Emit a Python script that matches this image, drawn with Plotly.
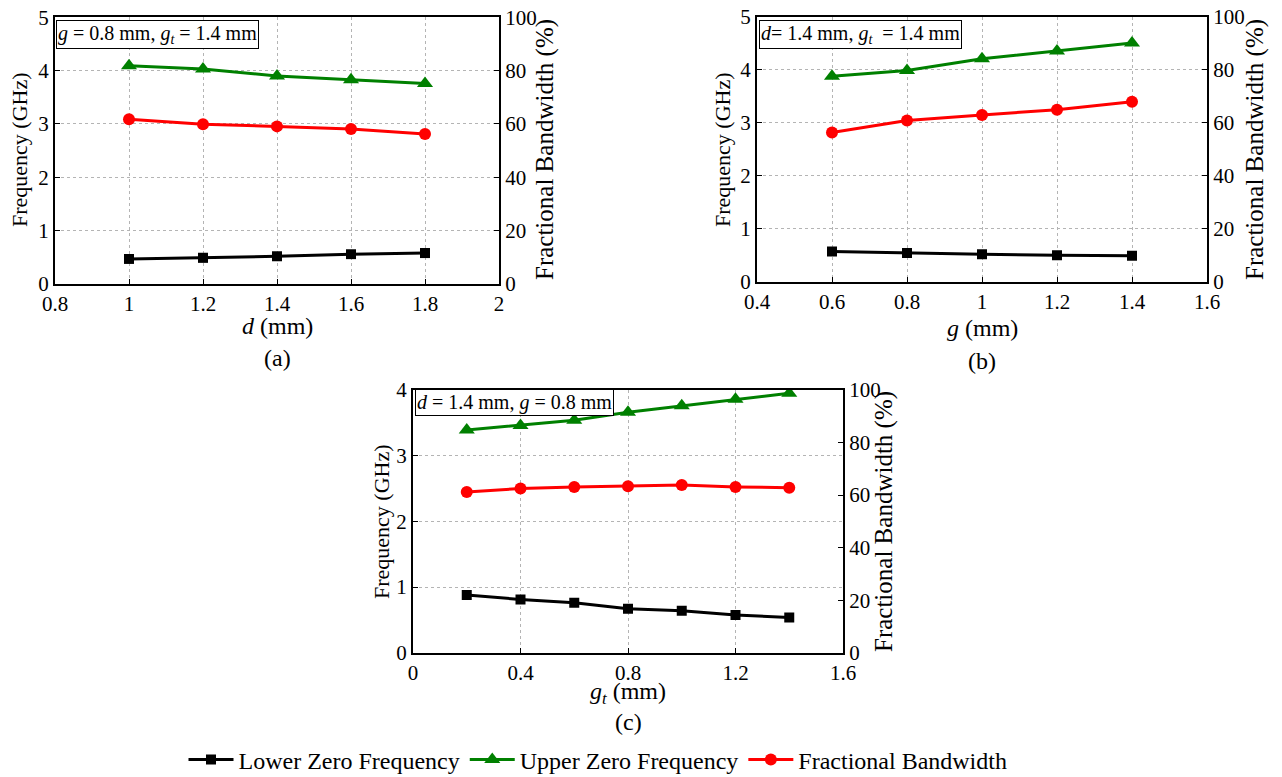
import plotly.graph_objects as go

# ---------------- data ----------------
d_vals = [1.0, 1.2, 1.4, 1.6, 1.8]
a_lower = [0.47, 0.49, 0.52, 0.56, 0.58]
a_upper = [4.09, 4.03, 3.90, 3.83, 3.76]
a_fbw = [61.8, 59.9, 59.1, 58.1, 56.2]

g_vals = [0.6, 0.8, 1.0, 1.2, 1.4]
b_lower = [0.57, 0.54, 0.52, 0.50, 0.49]
b_upper = [3.88, 3.99, 4.21, 4.36, 4.51]
b_fbw = [56.4, 60.9, 63.0, 65.0, 68.0]

gt_vals = [0.2, 0.4, 0.6, 0.8, 1.0, 1.2, 1.4]
c_lower = [0.88, 0.81, 0.76, 0.67, 0.64, 0.575, 0.535]
c_upper = [3.39, 3.46, 3.54, 3.66, 3.76, 3.86, 3.95]
c_fbw = [61.2, 62.5, 63.1, 63.4, 63.8, 63.1, 62.8]

a_xticks = [0.8, 1.0, 1.2, 1.4, 1.6, 1.8, 2.0]
a_xticktext = ["0.8", "1", "1.2", "1.4", "1.6", "1.8", "2"]
b_xticks = [0.4, 0.6, 0.8, 1.0, 1.2, 1.4, 1.6]
b_xticktext = ["0.4", "0.6", "0.8", "1", "1.2", "1.4", "1.6"]
c_xticks = [0.0, 0.4, 0.8, 1.2, 1.6]
c_xticktext = ["0", "0.4", "0.8", "1.2", "1.6"]

series_names = ["Lower Zero Frequency", "Upper Zero Frequency", "Fractional Bandwidth"]

# ---------------- layout helpers ----------------
W, H = 1282, 777          # screenshot size
OFF = 8                   # page body margin
FW, FH = W - OFF, H - OFF  # figure size
FONT = "Liberation Serif, Times New Roman, Times, serif"


def px_x(x):
    return (x - OFF) / FW


def px_y(y):
    return 1 - (y - OFF) / FH


panels = {
    "a": dict(x0=55, x1=499, y0=17.3, y1=284),
    "b": dict(x0=757, x1=1207, y0=17, y1=281.7),
    "c": dict(x0=413, x1=843, y0=390, y1=652.7),
}

fig = go.Figure()

colors = ["black", "#008000", "#ff0000"]
symbols = ["square", "triangle-up", "circle"]
msizes = [10, 14, 12]

panel_data = [
    ("a", d_vals, a_lower, a_upper, a_fbw, "x", "y", "y2"),
    ("b", g_vals, b_lower, b_upper, b_fbw, "x2", "y3", "y4"),
    ("c", gt_vals, c_lower, c_upper, c_fbw, "x3", "y5", "y6"),
]

for i, (key, xs, lo, up, fb, xa, ya, ya2) in enumerate(panel_data):
    for j, (vals, yax) in enumerate([(lo, ya), (up, ya), (fb, ya2)]):
        fig.add_trace(go.Scatter(
            x=xs, y=vals, xaxis=xa, yaxis=yax,
            mode="lines+markers", name=series_names[j],
            line=dict(color=colors[j], width=3),
            marker=dict(symbol=symbols[j], size=msizes[j], color=colors[j]),
            showlegend=(i == 0),
        ))

grid = dict(showgrid=True, gridcolor="#b4b4b4", griddash="dot", gridwidth=1)
axline = dict(showline=True, linecolor="black", linewidth=2, zeroline=False,
              ticks="inside", ticklen=5, tickcolor="black", automargin=False,
              ticklabeloverflow="allow",
              tickfont=dict(family=FONT, size=21, color="black"))

xcfg = [(a_xticks, a_xticktext, [0.8, 2.0]),
        (b_xticks, b_xticktext, [0.4, 1.6]),
        (c_xticks, c_xticktext, [0.0, 1.6])]
ymax = [5, 5, 4]

layout_axes = {}
for i, key in enumerate(["a", "b", "c"]):
    p = panels[key]
    xd = [px_x(p["x0"]), px_x(p["x1"])]
    yd = [px_y(p["y1"]), px_y(p["y0"])]
    xname = "xaxis" if i == 0 else f"xaxis{i+1}"
    yname = "yaxis" if i == 0 else f"yaxis{2*i+1}"
    y2name = f"yaxis{2*i+2}"
    xref = "x" if i == 0 else f"x{i+1}"
    yref = "y" if i == 0 else f"y{2*i+1}"
    tv, tt, rng = xcfg[i]
    layout_axes[xname] = dict(domain=xd, anchor=yref, range=rng, tickvals=tv, ticktext=tt,
                              mirror=True, **grid, **axline)
    layout_axes[yname] = dict(domain=yd, anchor=xref, range=[0, ymax[i]], dtick=1, tick0=0,
                              mirror=True, **grid, **axline)
    layout_axes[y2name] = dict(overlaying=yref, anchor=xref, side="right", range=[0, 100],
                               dtick=20, tick0=0, showgrid=False, **axline)

fig.update_layout(**layout_axes)

ann = []


def add_text(x, y, text, size, angle=0, xanchor="center", yanchor="middle", box=False):
    d = dict(x=px_x(x), y=px_y(y), xref="paper", yref="paper", text=text, showarrow=False,
             textangle=angle, xanchor=xanchor, yanchor=yanchor,
             font=dict(family=FONT, size=size, color="black"))
    if box:
        d.update(bordercolor="black", borderwidth=1, borderpad=1, bgcolor="white")
    ann.append(d)


# axis titles
add_text(277, 326, "<i>d</i> (mm)", 24)
add_text(277, 358, "(a)", 24)
add_text(982, 328, "<i>g</i> (mm)", 24)
add_text(982, 361, "(b)", 24)
add_text(628, 693, "<i>g<sub>t</sub></i> (mm)", 24)
add_text(628, 722, "(c)", 24)

add_text(20, 150, "Frequency (GHz)", 22, angle=-90)
add_text(545, 150, "Fractional Bandwidth (%)", 25, angle=-90)
add_text(723, 150, "Frequency (GHz)", 22, angle=-90)
add_text(1255, 150, "Fractional Bandwidth (%)", 25, angle=-90)
add_text(381, 521, "Frequency (GHz)", 22, angle=-90)
add_text(884, 521, "Fractional Bandwidth (%)", 25, angle=-90)

# condition boxes
add_text(56, 19.5, "<i>g</i> = 0.8 mm, <i>g<sub>t</sub></i> = 1.4 mm", 20,
         xanchor="left", yanchor="top", box=True)
add_text(759, 20, "<i>d</i>= 1.4 mm, <i>g<sub>t</sub></i> &nbsp;= 1.4 mm", 20,
         xanchor="left", yanchor="top", box=True)
add_text(415, 389.5, "<i>d</i> = 1.4 mm, <i>g</i> = 0.8 mm", 20,
         xanchor="left", yanchor="top", box=True)

fig.update_layout(
    width=FW, height=FH, autosize=False,
    margin=dict(l=0, r=0, t=0, b=0, pad=0, autoexpand=False),
    paper_bgcolor="white", plot_bgcolor="white",
    font=dict(family=FONT, color="black"),
    annotations=ann,
    legend=dict(orientation="h", x=px_x(598), xanchor="center", y=px_y(760), yanchor="middle",
                font=dict(family=FONT, size=24, color="black"), itemwidth=45,
                bgcolor="rgba(0,0,0,0)", tracegroupgap=0),
)

fig.write_html("out.html")
